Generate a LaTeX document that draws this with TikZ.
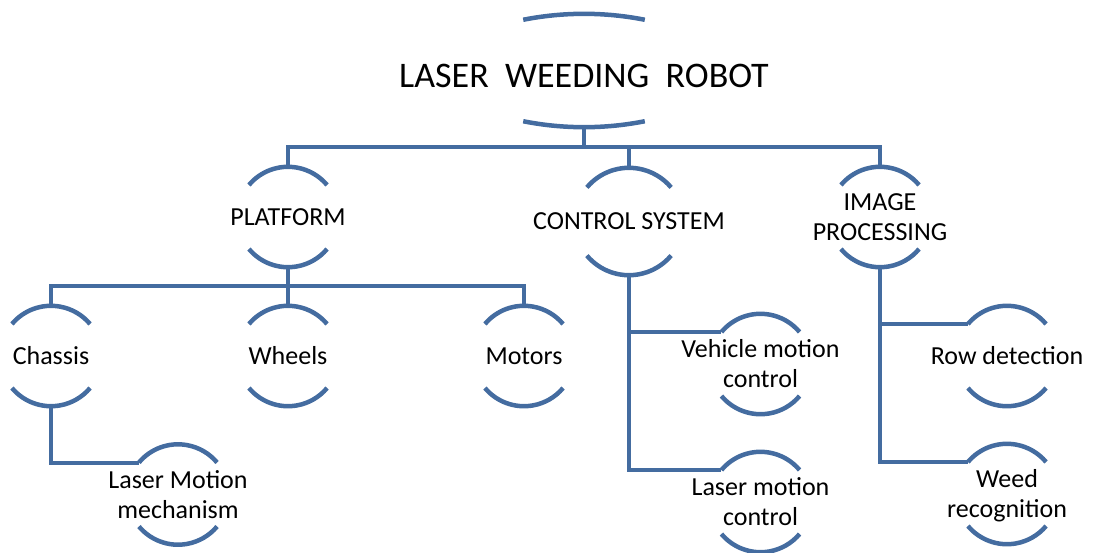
\documentclass[tikz,border=0pt]{standalone}
\usepackage{fontspec}
\setmainfont{Carlito}
\usetikzlibrary{calc}
\definecolor{lineblue}{RGB}{68,108,160}
\begin{document}
\begin{tikzpicture}[x=1pt,y=1pt,
  conn/.style={draw=lineblue, line width=4pt},
  arcline/.style={draw=lineblue, line width=4.5pt},
  leaf/.style={inner sep=0pt, minimum width=80pt, minimum height=100pt, align=center,
               font=\fontsize{26}{30}\selectfont, text=black},
  bigleaf/.style={leaf, minimum height=107pt},
  rootnode/.style={inner sep=0pt, minimum height=113pt, font=\fontsize{36}{40}\selectfont,
                   text=black, text height=33pt, text depth=0pt}
]
\useasboundingbox (0,0) rectangle (1094,-552);

% nodes
\node[rootnode] (root) at (584,-70.5) {LASER\ \ WEEDING\ \ ROBOT};
\node[leaf] (platform) at (288,-217) {PLATFORM};
\node[bigleaf] (control) at (629,-221.5) {CONTROL SYSTEM};
\node[leaf] (image) at (880,-217) {IMAGE\\PROCESSING};
\node[leaf] (chassis) at (51,-356) {Chassis};
\node[leaf] (wheels) at (288,-356) {Wheels};
\node[leaf] (motors) at (524,-356) {Motors};
\node[leaf] (lasermech) at (178,-494.5) {Laser Motion\\mechanism};
\node[leaf] (vehicle) at (760.5,-364) {Vehicle motion\\control};
\node[leaf] (lasermotion) at (760.5,-502) {Laser motion\\control};
\node[leaf] (row) at (1007,-356) {Row detection};
\node[leaf] (weed) at (1007,-494) {Weed\\reco\smash{g}nition};

% arcs above and below each node
\foreach \n/\R/\a in {root/313/11.2, platform/51/50, control/55/50, image/51/50,
    chassis/51/50, wheels/51/50, motors/51/50, lasermech/51/50, vehicle/51/50,
    lasermotion/51/50, row/51/50, weed/51/50} {
  \path (\n.north) ++(0pt,-\R pt) ++(90+\a:\R pt) coordinate (\n-tl);
  \path (\n.south) ++(0pt,\R pt) ++(270-\a:\R pt) coordinate (\n-bl);
  \draw[arcline] (\n-tl) arc[start angle=90+\a, end angle=90-\a, radius=\R pt];
  \draw[arcline] (\n-bl) arc[start angle=270-\a, end angle=270+\a, radius=\R pt];
}

% connectors
\coordinate (bus1) at (584,-147);
\coordinate (bus2) at (288,-286);
\draw[conn] (root.south) -- (bus1);
\draw[conn] (platform.north) -- (platform.north |- bus1) -- (image.north |- bus1) -- (image.north);
\draw[conn] (control.north |- bus1) -- (control.north);
\draw[conn] (platform.south) -- (wheels.north);
\draw[conn] (chassis.north) -- (chassis.north |- bus2) -- (motors.north |- bus2) -- (motors.north);
\draw[conn] (chassis.south) |- (lasermech-tl);
\draw[conn] (control.south) |- (lasermotion-tl);
\draw[conn] (control.south |- vehicle-tl) -- (vehicle-tl);
\draw[conn] (image.south) |- (weed-tl);
\draw[conn] (image.south |- row-tl) -- (row-tl);
\end{tikzpicture}
\end{document}
